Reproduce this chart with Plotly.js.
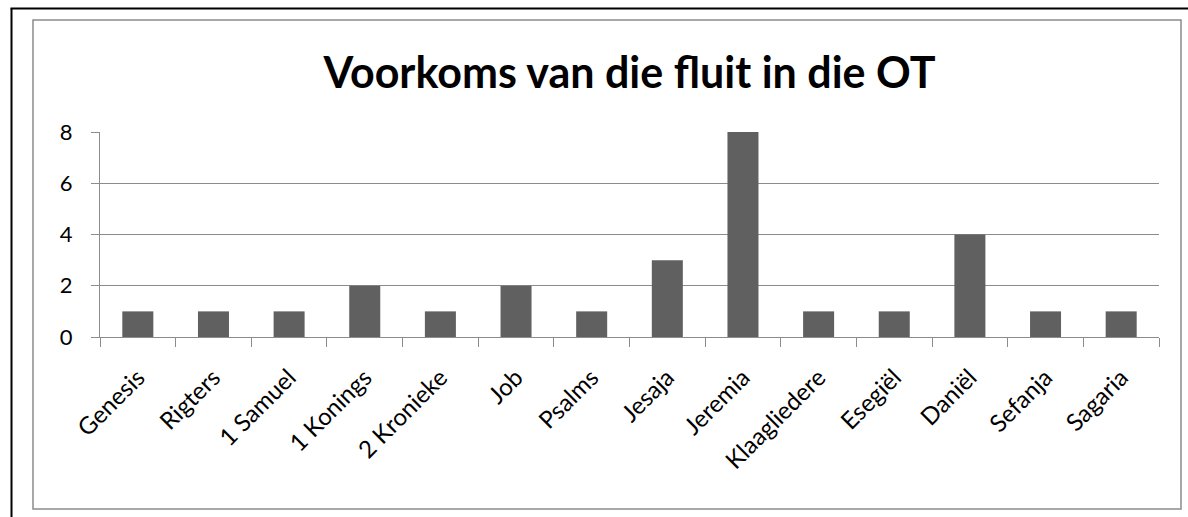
<!DOCTYPE html>
<html>
<head>
<meta charset="utf-8">
<script src="https://cdn.plot.ly/plotly-3.0.1.min.js"></script>
<style>
html,body{margin:0;padding:0;background:#fff;}
#chart{width:1188px;height:517px;}
</style>
</head>
<body>
<div id="chart"></div>
<script>
const books = ["Genesis","Rigters","1 Samuel","1 Konings","2 Kronieke","Job","Psalms","Jesaja","Jeremia","Klaagliedere","Esegiël","Daniël","Sefanja","Sagaria"];
const counts = [1,1,1,2,1,2,1,3,8,1,1,4,1,1];
const yTicks = [0,2,4,6,8];
const titleText = "Voorkoms van die fluit in die OT";

const W = 1188, H = 517;
const L = 100, R = 29, T = 132, B = 180;
const pw = W - L - R, ph = H - T - B;
const fx = px => (px - L) / pw;
const fy = py => (H - B - py) / ph;

const trace = {
  type: "bar",
  x: books,
  y: counts,
  marker: {color: "#606060", line: {width: 0}},
  hoverinfo: "x+y"
};

const layout = {
  width: W, height: H,
  margin: {l: L, r: R, t: T, b: B, pad: 0},
  paper_bgcolor: "#ffffff",
  plot_bgcolor: "#ffffff",
  showlegend: false,
  bargap: 0.59,
  font: {family: "Lato, 'Open Sans', sans-serif", color: "#000000", size: 20},
  title: {
    text: "<b>" + titleText + "</b>",
    font: {family: "Lato, 'Open Sans', sans-serif", size: 43, color: "#000000"},
    x: 0.5, xref: "paper", xanchor: "center",
    y: 1 - 73 / H, yref: "container", yanchor: "middle"
  },
  xaxis: {
    type: "category",
    tickson: "boundaries",
    ticks: "outside", ticklen: 9, tickcolor: "#8c8c8c", tickwidth: 1,
    showline: true, linecolor: "#8c8c8c", linewidth: 1,
    showgrid: false, zeroline: false,
    tickangle: -45,
    ticklabelstandoff: 16,
    tickfont: {size: 24, color: "#000000"}
  },
  yaxis: {
    range: [0, 8],
    tickvals: yTicks,
    ticktext: yTicks.map(String),
    ticks: "outside", ticklen: 8, tickcolor: "#8c8c8c", tickwidth: 1,
    showline: true, linecolor: "#8c8c8c", linewidth: 1,
    showgrid: true, gridcolor: "#8c8c8c", gridwidth: 1,
    zeroline: false,
    ticklabelstandoff: 14,
    tickfont: {size: 22, color: "#000000"}
  },
  shapes: [
    {type: "line", xref: "paper", yref: "paper", x0: fx(11.5), x1: fx(11.5), y0: fy(8.5), y1: fy(520), line: {color: "#000000", width: 2}},
    {type: "line", xref: "paper", yref: "paper", x0: fx(10.5), x1: fx(1190), y0: fy(8.5), y1: fy(8.5), line: {color: "#000000", width: 2}},
    {type: "rect", xref: "paper", yref: "paper", x0: fx(33), x1: fx(1181), y0: fy(20), y1: fy(509), line: {color: "#8c8c8c", width: 1.5}, fillcolor: "rgba(0,0,0,0)", layer: "below"}
  ]
};

Plotly.newPlot("chart", [trace], layout, {displayModeBar: false, staticPlot: true});
</script>
</body>
</html>
